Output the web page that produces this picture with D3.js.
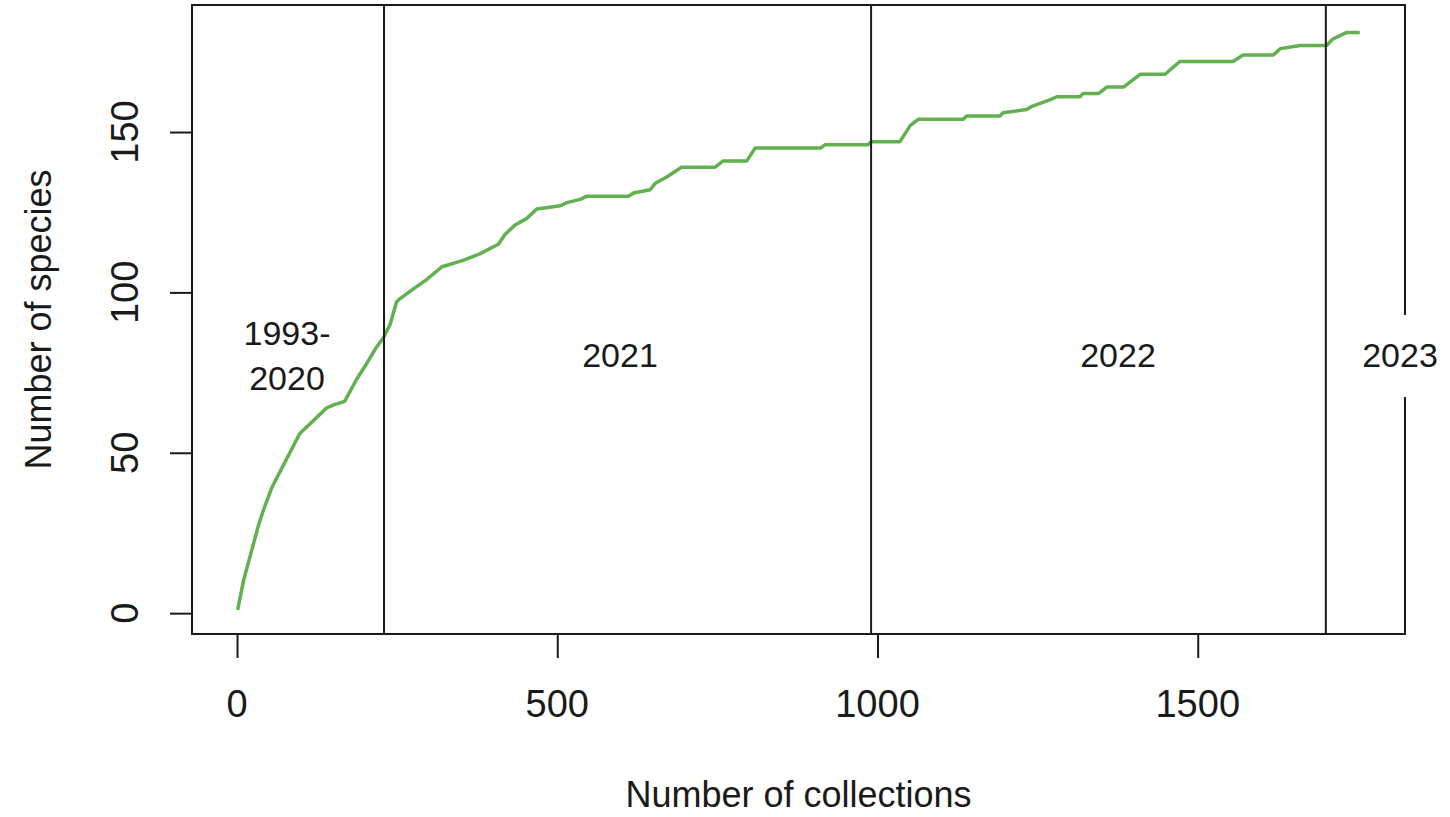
<!DOCTYPE html>
<html>
<head>
<meta charset="utf-8">
<script src="https://cdn.jsdelivr.net/npm/d3@7"></script>
<style>
  html, body { margin: 0; padding: 0; background: #ffffff; }
  svg { display: block; }
  text { font-family: "Liberation Sans", Arial, Helvetica, sans-serif; fill: #1a1a1a; }
</style>
</head>
<body>
<svg id="chart" width="1450" height="817"></svg>
<script>
// ---- data ----
const collections = [1,10,18,33,41,54,72,98,119,140,152,168,187,203,218,229,239,249,254,275,
  296,320,353,379,408,418,434,452,468,505,515,536,546,611,619,645,653,671,694,746,
  759,796,809,911,918,985,990,1035,1051,1064,1134,1139,1191,1196,1233,1241,1269,1280,1316,1321,
  1345,1358,1384,1410,1449,1472,1555,1571,1618,1629,1660,1701,1711,1732,1753];
const species = [1,10,16,27,32,39,46,56,60,64,65,66,73,78,83,86,90,97,98,101,
  104,108,110,112,115,118,121,123,126,127,128,129,130,130,131,132,134,136,139,139,
  141,141,145,145,146,146,147,147,152,154,154,155,155,156,157,158,160,161,161,162,
  162,164,164,168,168,172,172,174,174,176,177,177,179,181,181];
const xTickValues = [0, 500, 1000, 1500];
const yTickValues = [0, 50, 100, 150];
const periodBreaks = [229.5, 990, 1700];
const periodLabels = [["1993-", "2020"], ["2021"], ["2022"], ["2023"]];
const xTitle = "Number of collections";
const yTitle = "Number of species";

// ---- layout ----
const plot = { left: 192, right: 1405, top: 5, bottom: 634 };
const svg = d3.select("#chart");

const x = d3.scaleLinear().domain([-70.3, 1823.6]).range([plot.left, plot.right]);
const y = d3.scaleLinear().domain([-6.5, 189.6]).range([plot.bottom, plot.top]);

// curve
const pts = collections.map((c, i) => [c, species[i]]);
svg.append("path")
  .datum(pts)
  .attr("fill", "none")
  .attr("stroke", "#62b04f")
  .attr("stroke-width", 3.5)
  .attr("stroke-linejoin", "round")
  .attr("d", d3.line().x(d => x(d[0])).y(d => y(d[1])));

// period separators
svg.selectAll("line.sep").data(periodBreaks).join("line")
  .attr("class", "sep")
  .attr("x1", d => x(d)).attr("x2", d => x(d))
  .attr("y1", plot.top).attr("y2", plot.bottom)
  .attr("stroke", "#1a1a1a").attr("stroke-width", 2);

// box
svg.append("rect")
  .attr("x", plot.left).attr("y", plot.top)
  .attr("width", plot.right - plot.left).attr("height", plot.bottom - plot.top)
  .attr("fill", "none").attr("stroke", "#1a1a1a").attr("stroke-width", 2);

// axes
const xAxis = svg.append("g")
  .attr("transform", `translate(0,${plot.bottom})`)
  .call(d3.axisBottom(x).tickValues(xTickValues).tickSize(24).tickFormat(""));
xAxis.select(".domain").remove();
xAxis.selectAll(".tick line").attr("stroke", "#1a1a1a").attr("stroke-width", 2);

const yAxis = svg.append("g")
  .attr("transform", `translate(${plot.left},0)`)
  .call(d3.axisLeft(y).tickValues(yTickValues).tickSize(22).tickFormat(""));
yAxis.select(".domain").remove();
yAxis.selectAll(".tick line").attr("stroke", "#1a1a1a").attr("stroke-width", 2);

// tick labels
svg.selectAll("text.xl").data(xTickValues).join("text")
  .attr("class", "xl")
  .attr("text-anchor", "middle")
  .attr("font-size", 38)
  .attr("transform", d => `translate(${x(d)},717)`)
  .text(d => d);

svg.selectAll("text.yl").data(yTickValues).join("text")
  .attr("class", "yl")
  .attr("text-anchor", "middle")
  .attr("font-size", 38)
  .attr("transform", d => `translate(138,${y(d)}) rotate(-90)`)
  .text(d => d);

// axis titles
svg.append("text")
  .attr("text-anchor", "middle")
  .attr("font-size", 36)
  .attr("transform", `translate(${(plot.left + plot.right) / 2},807)`)
  .text(xTitle);

svg.append("text")
  .attr("text-anchor", "middle")
  .attr("font-size", 36)
  .attr("transform", `translate(51,${(plot.top + plot.bottom) / 2}) rotate(-90)`)
  .text(yTitle);

// white patch behind the last label
svg.append("rect")
  .attr("x", x(periodBreaks[2]) + 1.5).attr("y", 315)
  .attr("width", 1450 - x(periodBreaks[2])).attr("height", 82)
  .attr("fill", "#ffffff");

// period labels
const labelPos = [
  { cx: 287, base: 345 },
  { cx: 620, base: 367 },
  { cx: 1118, base: 367 },
  { cx: 1400, base: 367 }
];
periodLabels.forEach((lines, i) => {
  const t = svg.append("text")
    .attr("text-anchor", "middle")
    .attr("font-size", 34);
  lines.forEach((ln, j) => {
    t.append("tspan")
      .attr("x", labelPos[i].cx)
      .attr("y", labelPos[i].base + j * 45)
      .text(ln);
  });
});
</script>
</body>
</html>
